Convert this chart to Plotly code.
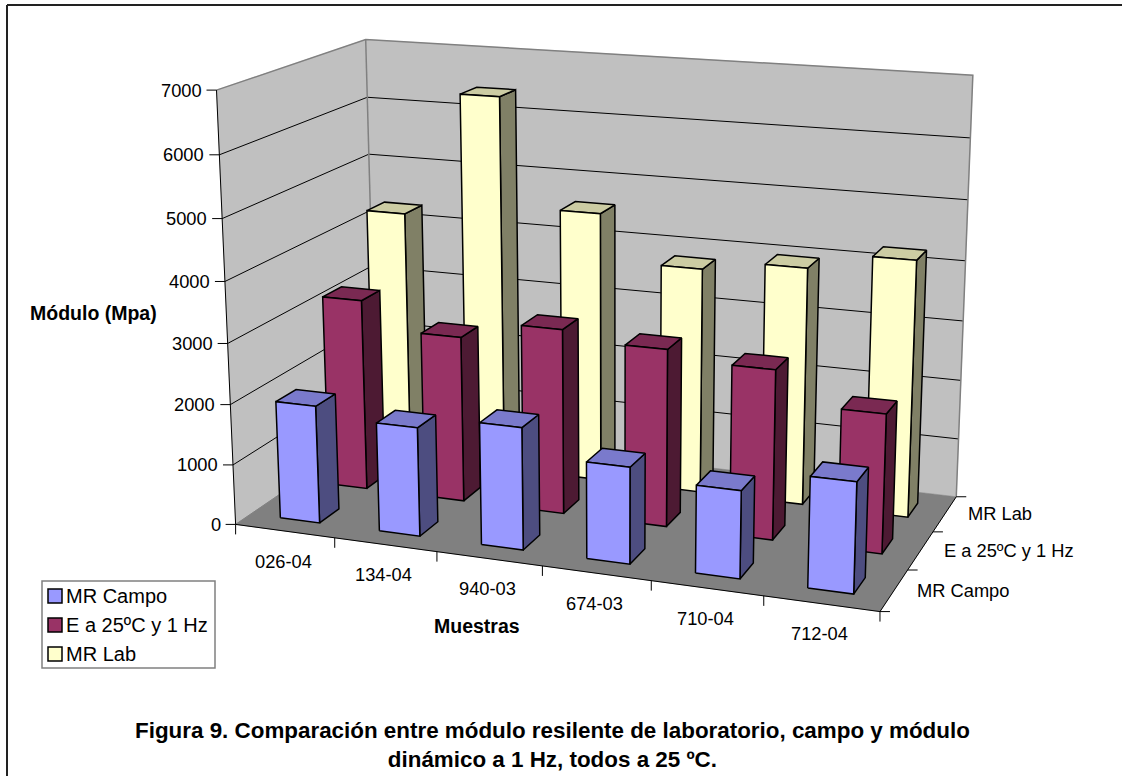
import numpy as np
import plotly.graph_objects as go

categories = ["026-04", "134-04", "940-03", "674-03", "710-04", "712-04"]
series_names = ["MR Campo", "E a 25ºC y 1 Hz", "MR Lab"]
mr_campo = [1950, 1790, 1990, 1560, 1400, 1750]
e_25c = [3230, 2780, 3080, 2930, 2780, 2260]
mr_lab = [4300, 6400, 4580, 3800, 3970, 4250]
z_ticks = [0, 1000, 2000, 3000, 4000, 5000, 6000, 7000]
front_colors = ["#9999FF", "#993366", "#FFFFCC"]
side_colors = ["#4D4D80", "#4D1A33", "#808066"]
top_colors = ["#7A7ACC", "#7A2952", "#CCCCA3"]

W, H = 1122, 776
ZMAX = 7000.0
NX, NY = len(categories), len(series_names)

# Perspective camera of the 3D box (eye, centre, up, box proportions, focal length, image centre)
EYE = np.array([1.8143, -4.9076, 1.4196])
CENTER = np.array([-0.0169, 0.0888, -0.0233])
UP = np.array([-0.1433, 0.3937, 1.0])
BOX = np.array([1.5012, 0.7425, 1.0])
FOCAL, CX, CY = 2401.8811, 607.7654, 301.2264
_f = (EYE-CENTER)/np.linalg.norm(EYE-CENTER)
_s = np.cross(UP, _f); _s = _s/np.linalg.norm(_s)
_u = np.cross(_f, _s)


def project(x, y, z):
    m = np.array([(x/NX-0.5)*BOX[0], (y/NY-0.5)*BOX[1], (z/ZMAX-0.5)*BOX[2]])
    d = m-EYE
    return CX+FOCAL*(d@_s)/(-(d@_f)), CY-FOCAL*(d@_u)/(-(d@_f))


def path(points, close=False):
    xs, ys = [], []
    for p in points:
        a, b = project(*p)
        xs.append(a); ys.append(b)
    if close:
        xs.append(xs[0]); ys.append(ys[0])
    return xs, ys


def polys(list_of_points, close=True):
    xs, ys = [], []
    for pts in list_of_points:
        a, b = path(pts, close)
        xs += a+[None]; ys += b+[None]
    return xs, ys


fig = go.Figure()


def fill(points_list, color, line_color=None, width=0, name=None):
    xs, ys = polys(points_list)
    fig.add_trace(go.Scatter(x=xs, y=ys, mode="lines", fill="toself", fillcolor=color, name=name,
                             line=dict(color=line_color or color, width=width or 0.5),
                             showlegend=False, hoverinfo="skip"))


def stroke(points_list, color, width):
    xs, ys = polys(points_list, close=False)
    fig.add_trace(go.Scatter(x=xs, y=ys, mode="lines", line=dict(color=color, width=width),
                             showlegend=False, hoverinfo="skip"))


# Walls and floor
fill([[(0, 0, 0), (0, NY, 0), (0, NY, ZMAX), (0, 0, ZMAX)],
      [(0, NY, 0), (NX, NY, 0), (NX, NY, ZMAX), (0, NY, ZMAX)]], "#C0C0C0")
fill([[(0, 0, 0), (NX, 0, 0), (NX, NY, 0), (0, NY, 0)]], "#808080")
# Gridlines
stroke([[(0, 0, v), (0, NY, v), (NX, NY, v)] for v in z_ticks[1:-1]], "black", 1)
# Wall outline
stroke([[(0, 0, ZMAX), (0, NY, ZMAX), (NX, NY, ZMAX), (NX, NY, 0)], [(0, NY, 0), (0, NY, ZMAX)]], "#808080", 1.5)
stroke([[(0, 0, 0), (0, NY, 0)]], "#808080", 1)
# Axis lines
stroke([[(0, 0, ZMAX), (0, 0, 0), (NX, 0, 0), (NX, NY, 0)]], "black", 1)

# Ticks, offset on screen from where the axes put them
tx, ty = [], []
for v in z_ticks:
    a, b = project(0, 0, v)
    tx += [a-10, a, None]; ty += [b, b, None]
for c in range(NX+1):
    a, b = project(c, 0, 0)
    tx += [a, a, None]; ty += [b, b+10, None]
for s in range(NY+1):
    a, b = project(NX, s, 0)
    tx += [a, a+10, None]; ty += [b, b, None]
fig.add_trace(go.Scatter(x=tx, y=ty, mode="lines", line=dict(color="black", width=1), showlegend=False, hoverinfo="skip"))

# Bars: back row first
WIDTH = 0.2
values = [mr_campo, e_25c, mr_lab]
for s in reversed(range(NY)):
    y0, y1 = s+0.5-WIDTH, s+0.5+WIDTH
    fronts, sides, tops = [], [], []
    for c, v in enumerate(values[s]):
        x0, x1 = c+0.5-WIDTH, c+0.5+WIDTH
        fronts.append([(x0, y0, 0), (x1, y0, 0), (x1, y0, v), (x0, y0, v)])
        sides.append([(x1, y0, 0), (x1, y1, 0), (x1, y1, v), (x1, y0, v)])
        tops.append([(x0, y0, v), (x1, y0, v), (x1, y1, v), (x0, y1, v)])
    fill(sides, side_colors[s], "black", 1.5, series_names[s]+" (lado)")
    fill(tops, top_colors[s], "black", 1.5, series_names[s]+" (arriba)")
    fill(fronts, front_colors[s], "black", 1.5, series_names[s])

font = dict(family="Liberation Sans", size=18.3, color="black")
legend_font = dict(family="Liberation Sans", size=20, color="black")
bold = dict(family="Liberation Sans", size=19.5, color="black")
ann = []


def label(x, y, text, f=font, **kw):
    ann.append(dict(x=x, y=y, xref="x", yref="y", text=text, showarrow=False, font=f, **kw))


for v in z_ticks:
    a, b = project(0, 0, v)
    label(a-13, b, str(v), xanchor="right")
for i, c in enumerate(categories):
    a, b = project(i+0.5, 0, 0)
    label(a-1.5, b+30, c)
for i, c in enumerate(series_names):
    a, b = project(NX, i+0.5, 0)
    label(a+21, b, c, xanchor="left")
label(93, 313, "<b>Módulo (Mpa)</b>", bold)
label(477, 626, "<b>Muestras</b>", bold)
label(552, 745, "<b>Figura 9. Comparación entre módulo resilente de laboratorio, campo y módulo<br>dinámico a 1 Hz, todos a 25 ºC.</b>",
      dict(family="Liberation Sans", size=22.4, color="black"))

shapes = [
    dict(type="line", xref="x", yref="y", x0=7, x1=W, y0=5, y1=5, line=dict(color="#222222", width=2)),
    dict(type="line", xref="x", yref="y", x0=7, x1=7, y0=5, y1=H, line=dict(color="#222222", width=2)),
    dict(type="rect", xref="x", yref="y", x0=42, x1=215, y0=581, y1=668, fillcolor="white", line=dict(color="#808080", width=1.5)),
]
for i, name in enumerate(series_names):
    ytop = 589+i*29
    shapes.append(dict(type="rect", xref="x", yref="y", x0=48, x1=62, y0=ytop, y1=ytop+14,
                       fillcolor=front_colors[i], line=dict(color="black", width=1.5)))
    label(64, ytop+7, name, legend_font, xanchor="left")

fig.update_layout(
    width=W, height=H, margin=dict(l=0, r=0, t=0, b=0), paper_bgcolor="white", plot_bgcolor="white",
    showlegend=False, font=font,
    xaxis=dict(range=[0, W], visible=False, fixedrange=True),
    yaxis=dict(range=[H, 0], visible=False, fixedrange=True),
    annotations=ann, shapes=shapes,
)
fig.write_html("out.html", config=dict(displayModeBar=False),
               post_script="document.body.style.margin='0';document.body.style.overflow='hidden';")
